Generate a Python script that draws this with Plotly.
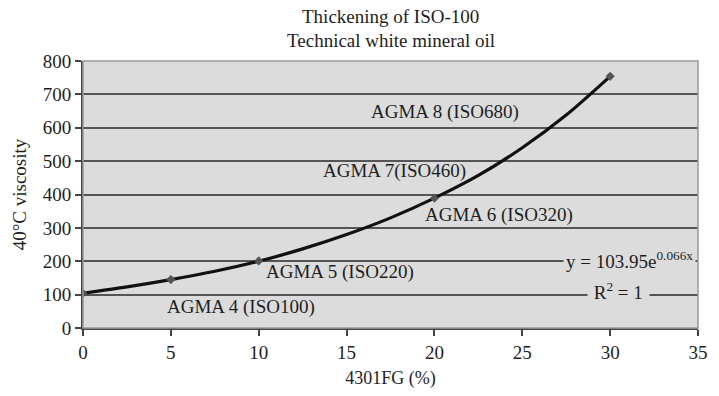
import plotly.graph_objects as go

x_pct = [0, 5, 10, 20, 30]
viscosity = [104, 145, 201, 389, 754]

# trendline
trend_x = [0, 2.5, 5, 7.5, 10, 12.5, 15, 17.5, 20, 22.5, 25, 27.5, 30]
trend_y = [104, 123, 145, 170, 200, 237, 280, 330, 389, 457, 540, 638, 754]

grade_labels = ["AGMA 8 (ISO680)", "AGMA 7(ISO460)", "AGMA 6 (ISO320)", "AGMA 5 (ISO220)", "AGMA 4 (ISO100)"]
grade_x = [20.6, 17.7, 23.7, 14.6, 9.0]
grade_y = [647, 470, 338, 168, 62]

title_lines = ["Thickening of ISO-100", "Technical white mineral oil"]

x_ticks = [0, 5, 10, 15, 20, 25, 30, 35]
y_ticks = [0, 100, 200, 300, 400, 500, 600, 700, 800]

BG = "#dcdcdc"
FONT = "Liberation Serif"
TXT = "#1e1e1e"

fig = go.Figure()
fig.add_trace(go.Scatter(
    x=trend_x, y=trend_y, mode="lines",
    line=dict(color="#111111", width=3.2, shape="spline", smoothing=0.8),
    showlegend=False, hoverinfo="skip",
))
fig.add_trace(go.Scatter(
    x=x_pct, y=viscosity, mode="markers",
    marker=dict(symbol="diamond", size=7, color="#555555"),
    showlegend=False, hoverinfo="x+y",
))

for t, gx, gy in zip(grade_labels, grade_x, grade_y):
    fig.add_annotation(x=gx, y=gy, text=t, showarrow=False,
                       font=dict(family=FONT, size=19, color=TXT))

fig.add_annotation(x=31.1, y=204, text="y = 103.95e<sup>0.066x</sup>", showarrow=False,
                   bgcolor=BG, font=dict(family=FONT, size=19, color=TXT), borderpad=2)
fig.add_annotation(x=30.5, y=112, text="&nbsp;R<sup>2</sup> = 1&nbsp;", showarrow=False,
                   bgcolor=BG, font=dict(family=FONT, size=19, color=TXT), borderpad=1)

for t, ty in zip(title_lines, [1.165, 1.077]):
    fig.add_annotation(x=0.5, y=ty, xref="paper", yref="paper", text=t, showarrow=False,
                       xanchor="center", yanchor="middle",
                       font=dict(family=FONT, size=19, color=TXT))

fig.add_shape(type="rect", xref="paper", yref="paper", x0=0, y0=0, x1=1, y1=1,
              line=dict(color="#999999", width=1.5), layer="above")

fig.update_layout(
    width=719, height=396,
    margin=dict(l=83, r=11, t=61, b=63),
    paper_bgcolor="white", plot_bgcolor=BG,
    font=dict(family=FONT, size=19, color=TXT),
    xaxis=dict(range=[0, 35], tickvals=x_ticks, showgrid=False, zeroline=False,
               showline=True, linecolor="#444444", linewidth=2,
               ticks="outside", ticklen=6, tickcolor="#444444", tickwidth=1.5,
               tickfont=dict(family=FONT, size=19, color=TXT),
               title=dict(text="4301FG (%)", font=dict(family=FONT, size=18, color=TXT), standoff=10)),
    yaxis=dict(range=[0, 800], tickvals=y_ticks, showgrid=True, gridcolor="#555555", gridwidth=1.5,
               zeroline=False, showline=True, linecolor="#444444", linewidth=2,
               ticks="outside", ticklen=6, tickcolor="#444444", tickwidth=1.5,
               tickfont=dict(family=FONT, size=19, color=TXT),
               title=dict(text="40°C viscosity", font=dict(family=FONT, size=19, color=TXT), standoff=11)),
)

fig.write_html("out.html")
